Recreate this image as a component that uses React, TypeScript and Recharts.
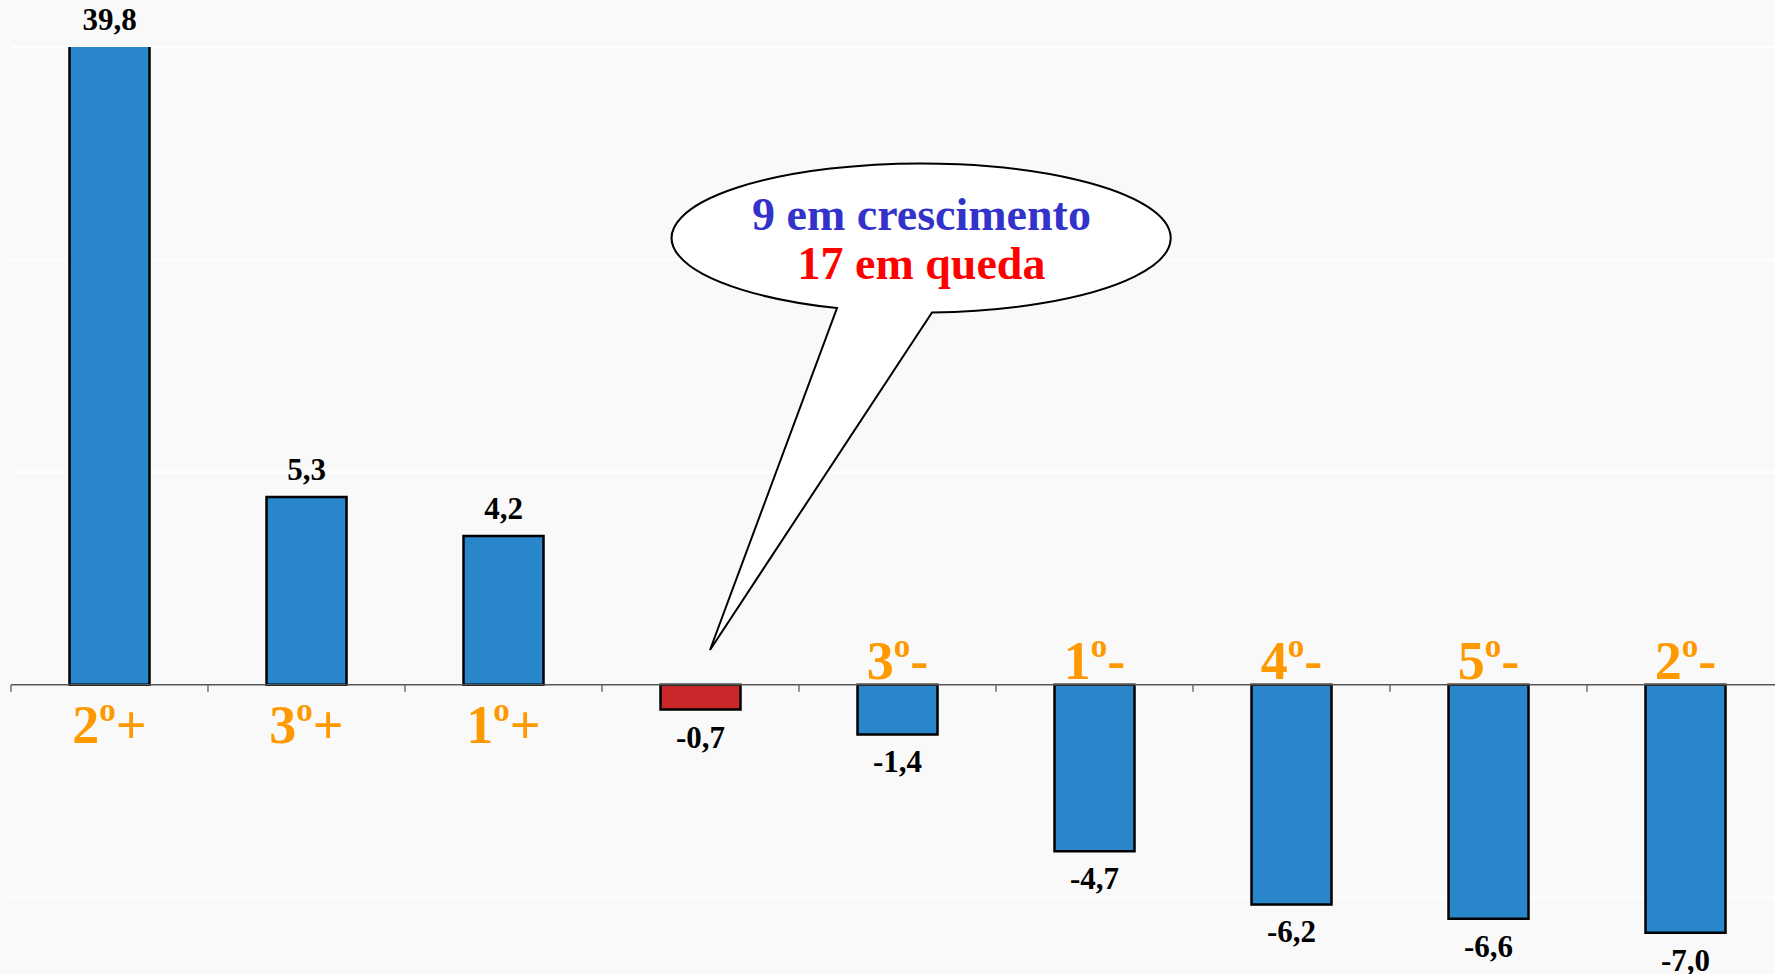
import React from "react";
import { BarChart, Bar, XAxis, YAxis, CartesianGrid, ReferenceLine, LabelList, Cell } from "recharts";

// ---- data ----
const categories = ["2º+", "3º+", "1º+", "·", "3º-", "1º-", "4º-", "5º-", "2º-"];
const rankLabels = ["2º+", "3º+", "1º+", "", "3º-", "1º-", "4º-", "5º-", "2º-"];
const values = [39.8, 5.3, 4.2, -0.7, -1.4, -4.7, -6.2, -6.6, -7.0];
const yTicks = [-12, -6, 0, 6, 12, 18];
const calloutLine1 = "9 em crescimento";
const calloutLine2 = "17 em queda";
const highlightIndex = 3;

const data = categories.map((c, i) => ({ name: c, value: values[i], rank: rankLabels[i] }));

// ---- layout / style ----
const W = 1800;
const H = 1120;
const MARGIN = { top: 47, right: 16, bottom: 10, left: 11 };
const GAP = 0.297;
const FONT = "'Liberation Serif', 'Times New Roman', serif";
const BLUE = "#2A86CA";
const RED = "#C8282A";
const ORANGE = "#FF9900";

const renderLabels = (props: any) => {
  const { x, y, width, height, value, index } = props;
  const top = Math.min(y, y + height);
  const bottom = Math.max(y, y + height);
  const cx = x + width / 2;
  const band = width / (1 - 2 * GAP);
  const zero = value >= 0 ? bottom : top;
  const shownTop = Math.max(top, MARGIN.top);
  const txt = Number(value).toFixed(1).replace(".", ",");
  const rank: string = rankLabels[index] || "";
  const parts = rank.split("º");
  return (
    <g>
      <line x1={cx - band / 2} x2={cx - band / 2} y1={zero} y2={zero + 7} stroke="#6d6d6d" strokeWidth={1.5} />
      <text
        x={cx}
        y={value >= 0 ? shownTop - 17 : bottom + 38}
        textAnchor="middle"
        fontFamily={FONT}
        fontWeight="bold"
        fontSize={31}
        fill="#000"
      >
        {txt}
      </text>
      {rank ? (
        <text
          x={cx}
          y={value >= 0 ? zero + 58 : zero - 6}
          textAnchor="middle"
          fontFamily={FONT}
          fontWeight="bold"
          fontSize={54}
          fill={ORANGE}
        >
          {parts[0]}
          <tspan fontSize={33} dy={-22}>o</tspan>
          <tspan dy={22}>{parts[1]}</tspan>
        </text>
      ) : null}
    </g>
  );
};

const Callout = () => {
  const cx = 921.5, cy = 238, rx = 249.5, ry = 74.5;
  const p1 = { x: 837, y: 308.1 };
  const p2 = { x: 932, y: 312.4 };
  const tip = { x: 710, y: 650 };
  return (
    <svg width={1775} height={974} style={{ position: "absolute", left: 0, top: 0, pointerEvents: "none" }}>
      <path
        d={`M ${p1.x} ${p1.y} A ${rx} ${ry} 0 1 1 ${p2.x} ${p2.y} L ${tip.x} ${tip.y} Z`}
        fill="#ffffff"
        stroke="#000"
        strokeWidth={2}
        strokeLinejoin="miter"
      />
      <text x={cx} y={230} textAnchor="middle" fontFamily={FONT} fontWeight="bold" fontSize={46} fill="#3333CC">
        {calloutLine1}
      </text>
      <text x={cx} y={279} textAnchor="middle" fontFamily={FONT} fontWeight="bold" fontSize={46} fill="#FF0000">
        {calloutLine2}
      </text>
    </svg>
  );
};

export default function App() {
  return (
    <div
      style={{
        position: "absolute",
        left: 0,
        top: 0,
        width: 1775,
        height: 974,
        overflow: "hidden",
        background: "#f9f9f9",
      }}
    >
      <BarChart width={W} height={H} data={data} margin={MARGIN} barCategoryGap={`${GAP * 100}%`}>
        <CartesianGrid horizontal={true} vertical={false} stroke="#ffffff" strokeWidth={2} />
        <XAxis dataKey="name" hide />
        <YAxis hide width={0} type="number" domain={[-12, 18]} ticks={yTicks} allowDataOverflow />
        <ReferenceLine y={0} stroke="#555555" strokeWidth={1.5} />
        <Bar dataKey="value" stroke="#000" strokeWidth={2.5} isAnimationActive={false}>
          {data.map((d, i) => (
            <Cell key={i} fill={i === highlightIndex ? RED : BLUE} />
          ))}
          <LabelList dataKey="value" content={renderLabels} />
        </Bar>
      </BarChart>
      <Callout />
    </div>
  );
}
